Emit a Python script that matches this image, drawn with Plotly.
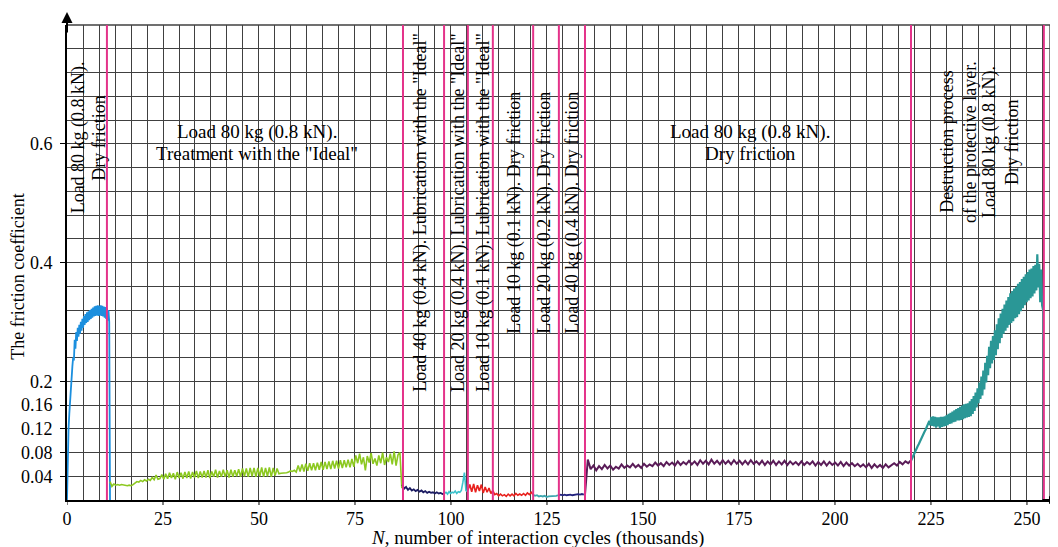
import numpy as np
import plotly.graph_objects as go

# ---------------- data ----------------
x_tick_vals = [0, 25, 50, 75, 100, 125, 150, 175, 200, 225, 250]
y_tick_vals = [0.04, 0.08, 0.12, 0.16, 0.2, 0.4, 0.6]
y_tick_text = ["0.04", "0.08", "0.12", "0.16", "0.2", "0.4", "0.6"]

# stage boundaries (thousands of cycles)
stage_bounds = [10.4, 87.5, 98.2, 104.4, 110.9, 121.4, 128.1, 134.9, 219.8, 254.4]

# friction coefficient, per stage (span = first/last cycle)
blue_span = (0.0, 11.2)
blue_mu = [0.0, 0.095, 0.12, 0.145, 0.17, 0.19, 0.21, 0.225, 0.24, 0.235,
           0.27, 0.255, 0.283, 0.268, 0.29, 0.275, 0.295, 0.28, 0.30, 0.285,
           0.305, 0.29, 0.31, 0.295, 0.313, 0.298, 0.316, 0.30, 0.318, 0.303,
           0.32, 0.305, 0.322, 0.307, 0.324, 0.309, 0.326, 0.31, 0.327, 0.311,
           0.328, 0.31, 0.327, 0.311, 0.328, 0.31, 0.327, 0.309, 0.326, 0.307,
           0.325, 0.305, 0.323, 0.302, 0.32, 0.30, 0.0]

green_span = (11.2, 87.2)
green_mu = [0.031, 0.023, 0.027, 0.025, 0.026, 0.025, 0.026, 0.025, 0.025, 0.024,
            0.025, 0.024, 0.026, 0.029, 0.031, 0.030, 0.033, 0.031, 0.034, 0.032,
            0.035, 0.033, 0.038, 0.034, 0.042, 0.035, 0.036, 0.043, 0.035, 0.044,
            0.036, 0.046, 0.037, 0.045, 0.035, 0.047, 0.037, 0.046, 0.036, 0.047,
            0.037, 0.048, 0.036, 0.047, 0.038, 0.049, 0.037, 0.048, 0.038, 0.049,
            0.038, 0.050, 0.037, 0.048, 0.039, 0.051, 0.038, 0.049, 0.039, 0.051,
            0.039, 0.050, 0.038, 0.051, 0.039, 0.050, 0.040, 0.052, 0.039, 0.053,
            0.040, 0.053, 0.039, 0.054, 0.040, 0.054, 0.039, 0.054, 0.040, 0.055,
            0.039, 0.054, 0.040, 0.055, 0.039, 0.054, 0.041, 0.053, 0.044, 0.045,
            0.045, 0.045, 0.046, 0.047, 0.049, 0.048, 0.050, 0.047, 0.058, 0.048,
            0.060, 0.048, 0.061, 0.049, 0.062, 0.050, 0.062, 0.050, 0.063, 0.051,
            0.064, 0.051, 0.064, 0.052, 0.065, 0.052, 0.066, 0.053, 0.066, 0.053,
            0.067, 0.054, 0.067, 0.055, 0.068, 0.055, 0.069, 0.056, 0.075, 0.062,
            0.078, 0.060, 0.072, 0.050, 0.074, 0.063, 0.079, 0.061, 0.070, 0.058,
            0.075, 0.062, 0.080, 0.059, 0.072, 0.064, 0.078, 0.060, 0.082, 0.058,
            0.076, 0.080, 0.020]

navy_span = (87.3, 98.3)
navy_mu = [0.026, 0.019, 0.022, 0.017, 0.020, 0.016, 0.018, 0.015, 0.017, 0.014,
           0.016, 0.013, 0.015, 0.012, 0.014, 0.012, 0.013, 0.011, 0.013, 0.011,
           0.012, 0.010, 0.011]

cyan_span = (98.3, 104.3)
cyan_mu = [0.011, 0.013, 0.010, 0.014, 0.011, 0.013, 0.012, 0.015, 0.011, 0.014,
           0.013, 0.016, 0.030, 0.046, 0.016, 0.014]

red_span = (104.4, 121.4)
red_mu = [0.016, 0.026, 0.014, 0.027, 0.013, 0.025, 0.015, 0.026, 0.012, 0.022,
          0.013, 0.020, 0.011, 0.016, 0.009, 0.011, 0.007, 0.010, 0.007, 0.009,
          0.006, 0.010, 0.007, 0.010, 0.007, 0.011, 0.008, 0.010, 0.008, 0.011,
          0.008, 0.012, 0.009, 0.013, 0.009]

teal_small_span = (121.4, 127.9)
teal_small_mu = [0.009, 0.007, 0.008, 0.006, 0.007, 0.006, 0.007, 0.005, 0.006, 0.006,
                 0.007, 0.006, 0.007, 0.008]

navy2_span = (128.1, 134.6)
navy2_mu = [0.008, 0.009, 0.008, 0.009, 0.008, 0.009, 0.009, 0.008, 0.009, 0.009,
            0.010, 0.009, 0.010, 0.009]

purple_span = (134.9, 219.8)
purple_mu = [0.009, 0.068, 0.052, 0.058, 0.050, 0.057,
             0.052, 0.059, 0.053, 0.058, 0.051, 0.056, 0.053,
             0.060, 0.054, 0.058, 0.055, 0.061, 0.055, 0.059, 0.054, 0.061, 0.056, 0.060,
             0.057, 0.063, 0.058, 0.062, 0.057, 0.064, 0.059, 0.063, 0.058, 0.065, 0.059, 0.064, 0.060,
             0.066, 0.060, 0.065, 0.059, 0.067, 0.061, 0.066, 0.060, 0.068, 0.061,
             0.066, 0.060, 0.067, 0.061, 0.066, 0.060, 0.067, 0.061, 0.066, 0.060,
             0.066, 0.060, 0.067, 0.061, 0.065, 0.060, 0.066, 0.059, 0.065, 0.060,
             0.066, 0.059, 0.065, 0.060, 0.066, 0.059, 0.065, 0.060, 0.064, 0.059,
             0.065, 0.059, 0.064, 0.060, 0.065, 0.058, 0.064, 0.059, 0.065, 0.058,
             0.064, 0.059, 0.063, 0.058, 0.064, 0.057, 0.063, 0.058, 0.062, 0.057,
             0.061, 0.056, 0.060, 0.055, 0.061, 0.054, 0.060, 0.055, 0.059, 0.054,
             0.060, 0.055, 0.058,
             0.062, 0.058, 0.064, 0.060, 0.065, 0.062, 0.067]

teal_span = (219.8, 254.2)
teal_mu = [0.066, 0.070, 0.074, 0.077, 0.081, 0.084, 0.088, 0.091, 0.094,
           0.098, 0.101, 0.104, 0.108, 0.112, 0.115, 0.118, 0.122,
           0.125, 0.129, 0.133, 0.126, 0.140, 0.125, 0.141, 0.124,
           0.140, 0.122, 0.139, 0.124, 0.139, 0.121, 0.140, 0.123, 0.140, 0.124, 0.141, 0.125,
           0.143, 0.126, 0.145, 0.128, 0.147, 0.129, 0.149, 0.131, 0.151, 0.132, 0.153, 0.134,
           0.155, 0.134, 0.157, 0.135, 0.159, 0.136, 0.161, 0.138, 0.162, 0.139, 0.163, 0.140,
           0.166, 0.141, 0.170, 0.145, 0.175, 0.150, 0.181, 0.156, 0.188, 0.163, 0.198, 0.170,
           0.208, 0.176, 0.218, 0.186, 0.231, 0.198, 0.243, 0.210, 0.258, 0.222, 0.268, 0.230,
           0.276, 0.236, 0.286, 0.244, 0.296, 0.254, 0.306, 0.264, 0.314, 0.273, 0.322, 0.280,
           0.329, 0.285, 0.336, 0.290, 0.342, 0.295, 0.348, 0.298, 0.352, 0.301, 0.356, 0.306,
           0.359, 0.308, 0.364, 0.313, 0.367, 0.318, 0.372, 0.323, 0.376, 0.328, 0.380, 0.333,
           0.384, 0.336, 0.388, 0.340, 0.390, 0.343, 0.394, 0.348, 0.396, 0.353,
           0.414, 0.358, 0.398, 0.333, 0.388, 0.328, 0.320]

drop_span = (254.2, 254.3)
drop_mu = [0.320, 0.0]

# stage labels (one entry per text line)
stage_lines = [
    'Load 80 kg (0.8 kN).', 'Dry friction',
    'Load 80 kg (0.8 kN).', 'Treatment with the "Ideal"',
    'Load 40 kg (0.4 kN). Lubrication with the "Ideal"',
    'Load 20 kg (0.4 kN). Lubrication with the "Ideal"',
    'Load 10 kg (0.1 kN). Lubrication with the "Ideal"',
    'Load 10 kg (0.1 kN). Dry friction',
    'Load 20 kg (0.2 kN). Dry friction',
    'Load 40 kg (0.4 kN). Dry friction',
    'Load 80 kg (0.8 kN).', 'Dry friction',
    'Destruction process', 'of the protective layer.', 'Load 80 kg (0.8 kN).', 'Dry friction',
]
x_title = '<i>N</i>, number of interaction cycles (thousands)'
y_title = 'The friction coefficient'

# ---------------- styling / layout ----------------
# (x, y, angle, font size) for each label line
line_pos = [(2.9, 0.611, -90, 18), (8.3, 0.610, -90, 18),
            (49.5, 0.620, 0, 19), (49.5, 0.584, 0, 19),
            (92.2, 0.484, -90, 18), (101.9, 0.484, -90, 18), (108.4, 0.484, -90, 18),
            (116.7, 0.484, -90, 18), (124.5, 0.484, -90, 18), (131.8, 0.484, -90, 18),
            (177.9, 0.620, 0, 19), (177.9, 0.584, 0, 19),
            (229.1, 0.603, -90, 18), (235.2, 0.603, -90, 18), (240.4, 0.603, -90, 18),
            (246.1, 0.603, -90, 18)]

segments = [
    (blue_span, blue_mu, '#1b8fde', 1.8),
    (green_span, green_mu, '#8cc820', 1.6),
    (navy_span, navy_mu, '#1c1c62', 1.8),
    (cyan_span, cyan_mu, '#3cc2cc', 1.6),
    (red_span, red_mu, '#e8221e', 1.6),
    (teal_small_span, teal_small_mu, '#3ca6ae', 1.8),
    (navy2_span, navy2_mu, '#22227e', 1.8),
    (purple_span, purple_mu, '#5a1c58', 2.0),
    (teal_span, teal_mu, '#2a9796', 2.2),
    (drop_span, drop_mu, '#5aaeb6', 1.6),
]

FONT = 'Liberation Serif'
GRID = '#404040'
MAGENTA = '#e4338a'

fig = go.Figure()
for span, vals, color, w in segments:
    fig.add_trace(go.Scatter(
        x=np.linspace(span[0], span[1], len(vals)), y=vals, mode='lines',
        line=dict(color=color, width=w), showlegend=False, hoverinfo='skip'))

shapes = []
for b in stage_bounds:
    shapes.append(dict(type='line', xref='x', yref='paper', x0=b, x1=b, y0=0, y1=1,
                       line=dict(color=MAGENTA, width=2), layer='above'))
# right and top border of the grid
shapes.append(dict(type='line', xref='paper', yref='paper', x0=1, x1=1, y0=0, y1=1,
                   line=dict(color=GRID, width=1.3), layer='below'))
shapes.append(dict(type='line', xref='paper', yref='paper', x0=0, x1=1, y0=1, y1=1,
                   line=dict(color=GRID, width=1.3), layer='below'))
# small x tick marks below the axis
for v in x_tick_vals:
    shapes.append(dict(type='line', xref='x', yref='paper', x0=v, x1=v, y0=0, y1=-5 / 475,
                       line=dict(color='black', width=1)))

annotations = []
for text, (lx, ly, ang, fs) in zip(stage_lines, line_pos):
    annotations.append(dict(x=lx, y=ly, xref='x', yref='y', text=text, showarrow=False,
                            textangle=ang, xanchor='center', yanchor='middle', align='center',
                            font=dict(family=FONT, size=fs, color='black')))
# axis titles
annotations.append(dict(x=0.479, y=0, xref='paper', yref='paper', yshift=-38, text=x_title,
                        showarrow=False, xanchor='center', yanchor='middle',
                        font=dict(family=FONT, size=19, color='black')))
annotations.append(dict(x=0, y=0.376, xref='paper', yref='y', xshift=-49, text=y_title,
                        showarrow=False, textangle=-90, xanchor='center', yanchor='middle',
                        font=dict(family=FONT, size=18, color='black')))
# axis arrows
annotations.append(dict(x=0, y=1.0274, xref='paper', yref='paper', text='', showarrow=True,
                        ax=0, ay=22, arrowhead=2, arrowsize=1.1, arrowwidth=2, arrowcolor='black'))
annotations.append(dict(x=1.0071, y=0, xref='paper', yref='paper', text='', showarrow=True,
                        ax=-16, ay=0, arrowhead=2, arrowsize=0.8, arrowwidth=2, arrowcolor='black'))

# the page adds an 8px body margin, so the figure is 8px smaller and margins shifted
fig.update_layout(
    width=1050, height=539,
    margin=dict(l=59, r=8, t=17, b=47),
    paper_bgcolor='white', plot_bgcolor='white',
    font=dict(family=FONT, size=18, color='black'),
    shapes=shapes, annotations=annotations, showlegend=False,
    xaxis=dict(range=[0, 256], tickvals=x_tick_vals, ticks='', ticklabelstandoff=1,
               showgrid=True, gridcolor=GRID, gridwidth=1.3,
               minor=dict(dtick=25 / 6, tick0=0, showgrid=True, gridcolor=GRID, gridwidth=1.3),
               showline=True, linecolor='black', linewidth=2, zeroline=False,
               tickfont=dict(family=FONT, size=18, color='black')),
    yaxis=dict(range=[0, 0.8], tickvals=y_tick_vals, ticktext=y_tick_text, ticks='outside',
               ticklen=5, tickwidth=1, tickcolor='black', ticklabelstandoff=4,
               showgrid=True, gridcolor=GRID, gridwidth=1.3,
               minor=dict(dtick=0.04, tick0=0, showgrid=True, gridcolor=GRID, gridwidth=1.3),
               showline=True, linecolor='black', linewidth=2, zeroline=False,
               tickfont=dict(family=FONT, size=18, color='black')),
)

fig.write_html("out.html")
